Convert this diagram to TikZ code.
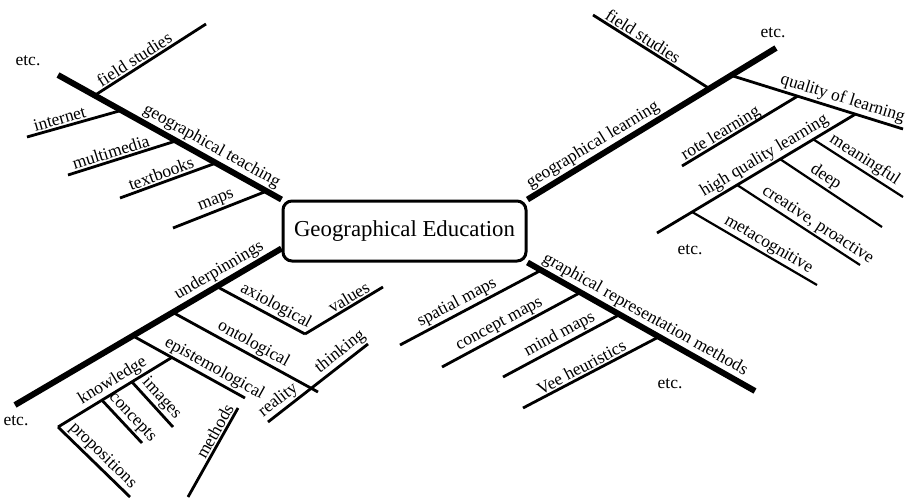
\documentclass[tikz,border=0pt]{standalone}
\usepackage{fontspec}
\setmainfont{Liberation Serif}
\usetikzlibrary{calc}
\begin{document}
\begin{tikzpicture}[x=1pt,y=-1pt,
  spine/.style={line width=6pt},
  twig/.style={line width=2.8pt},
  fine/.style={line width=2.2pt},
  lbl/.style={font=\fontsize{17.5}{20}\selectfont, sloped, above, inner sep=1.5pt},
  etc/.style={font=\fontsize{17.5}{20}\selectfont, inner sep=0pt}
]
\useasboundingbox (0,0) rectangle (915,503);

% central box
\node[draw, line width=3pt, rounded corners=9pt, minimum width=243pt,
      minimum height=60pt, fill=white, font=\fontsize{22.8}{26}\selectfont]
      (ge) at (404.5,231) {Geographical Education};

% ---------- geographical teaching (upper left) ----------
\coordinate (t0) at (58,75);
\draw[spine] (t0) -- node[lbl, pos=0.66] {geographical teaching} (ge.north west);
\coordinate (t1) at ($(t0)!0.164!(ge.north west)$);
\coordinate (t2) at ($(t0)!0.284!(ge.north west)$);
\coordinate (t3) at ($(t0)!0.529!(ge.north west)$);
\coordinate (t4) at ($(t0)!0.707!(ge.north west)$);
\coordinate (t5) at ($(t0)!0.933!(ge.north west)$);
\coordinate (fsA) at (206,24);
\coordinate (inA) at (27,137);
\coordinate (mmA) at (68,175);
\coordinate (tbA) at (120,198);
\coordinate (mpA) at (173,228);
\draw[twig] (t1) -- node[lbl, pos=0.40] {field studies} (fsA);
\draw[twig] (inA) -- node[lbl, pos=0.37] {internet} (t2);
\draw[twig] (mmA) -- node[lbl, pos=0.42] {multimedia} (t3);
\draw[twig] (tbA) -- node[lbl, pos=0.46] {textbooks} (t4);
\draw[twig] (mpA) -- node[lbl, pos=0.50] {maps} (t5);
\node[etc] (etcA) at (28,61) {etc.};

% ---------- geographical learning (upper right) ----------
\coordinate (l0) at (776,48);
\draw[spine] (ge.north east) -- node[lbl, pos=0.29] {geographical learning} (l0);
\coordinate (l1) at ($(ge.north east)!0.732!(l0)$);
\coordinate (l2) at ($(ge.north east)!0.819!(l0)$);
\coordinate (fsB) at (593,15);
\coordinate (qlB) at (903,129);
\draw[twig] (fsB) -- node[lbl, pos=0.39] {field studies} (l1);
\draw[twig] (l2) -- node[lbl, pos=0.63] {quality of learning} (qlB);
\coordinate (q1) at ($(l2)!0.387!(qlB)$);
\coordinate (q2) at ($(l2)!0.723!(qlB)$);
\coordinate (rlA) at (682,166);
\coordinate (hqA) at (657,233);
\draw[twig] (rlA) -- node[lbl, pos=0.37, inner sep=-2pt] {rote learning} (q1);
\draw[twig] (hqA) -- node[lbl, pos=0.57] {high quality learning} (q2);
\coordinate (h1) at ($(hqA)!0.788!(q2)$);
\coordinate (h2) at ($(hqA)!0.621!(q2)$);
\coordinate (h3) at ($(hqA)!0.404!(q2)$);
\coordinate (h4) at ($(hqA)!0.177!(q2)$);
\coordinate (mfB) at (903,197);
\coordinate (dpB) at (882,227);
\coordinate (crB) at (860,265);
\coordinate (mcB) at (817,285);
\draw[fine] (h1) -- node[lbl, pos=0.51] {meaningful} (mfB);
\draw[fine] (h2) -- node[lbl, pos=0.39] {deep} (dpB);
\draw[fine] (h3) -- node[lbl, pos=0.61] {creative, proactive} (crB);
\draw[fine] (h4) -- node[lbl, pos=0.57] {metacognitive} (mcB);
\node[etc] (etcB) at (773,33) {etc.};
\node[etc] (etcC) at (690,250) {etc.};

% ---------- underpinnings (lower left) ----------
\coordinate (u0) at (15,405);
\coordinate (uB) at ($(ge.south west)+(0,-14)$);
\draw[spine] (u0) -- node[lbl, pos=0.79] {underpinnings} (uB);
\coordinate (u1) at ($(u0)!0.757!(uB)$);
\coordinate (u2) at ($(u0)!0.592!(uB)$);
\coordinate (u3) at ($(u0)!0.442!(uB)$);
\coordinate (ax) at (305,334);
\coordinate (vaB) at (383,287);
\coordinate (onB) at (318,392);
\coordinate (reA) at (268,422);
\coordinate (thB) at (368,344);
\coordinate (epB) at (245,398);
\draw[twig] (u1) -- node[lbl, pos=0.61] {axiological} (ax);
\draw[twig] (ax) -- node[lbl, pos=0.62] {values} (vaB);
\draw[twig] (u2) -- node[lbl, pos=0.52] {ontological} (onB);
\draw[twig] (reA) -- node[lbl, pos=0.17] {reality}
                    node[lbl, pos=0.79] {thinking} (thB);
\draw[twig] (u3) -- node[lbl, pos=0.68] {epistemological} (epB);
\coordinate (kn0) at (58,427);
\coordinate (e1) at ($(u3)!0.348!(epB)$);
\draw[twig] (kn0) -- node[lbl, pos=0.53] {knowledge} (e1);
\coordinate (k1) at ($(kn0)!0.386!(e1)$);
\coordinate (k2) at ($(kn0)!0.649!(e1)$);
\coordinate (prB) at (130,497);
\coordinate (coB) at (142,443);
\coordinate (imB) at (173,427);
\draw[twig] (kn0) -- node[lbl, pos=0.52] {propositions} (prB);
\draw[twig] (k1) -- node[lbl, pos=0.57] {concepts} (coB);
\draw[twig] (k2) -- node[lbl, pos=0.53] {images} (imB);
\coordinate (meA) at (188,497);
\coordinate (meB) at (238,408);
\draw[twig] (meA) -- node[lbl, pos=0.69] {methods} (meB);
\node[etc] (etcD) at (16,421) {etc.};

% ---------- graphical representation methods (lower right) ----------
\coordinate (g0) at (755,391);
\draw[spine] (ge.south east) -- node[lbl, pos=0.49] {graphical representation methods} (g0);
\coordinate (g1) at ($(ge.south east)!0.06!(g0)$);
\coordinate (g2) at ($(ge.south east)!0.233!(g0)$);
\coordinate (g3) at ($(ge.south east)!0.405!(g0)$);
\coordinate (g4) at ($(ge.south east)!0.578!(g0)$);
\coordinate (smA) at (400,345);
\coordinate (cmA) at (442,367);
\coordinate (mdA) at (503,377);
\coordinate (vhA) at (523,408);
\draw[twig] (smA) -- node[lbl, pos=0.44] {spatial maps} (g1);
\draw[twig] (cmA) -- node[lbl, pos=0.45] {concept maps} (g2);
\draw[twig] (mdA) -- node[lbl, pos=0.53] {mind maps} (g3);
\draw[twig] (vhA) -- node[lbl, pos=0.46] {Vee heuristics} (g4);
\node[etc] (etcE) at (670,384) {etc.};
\end{tikzpicture}
\end{document}
